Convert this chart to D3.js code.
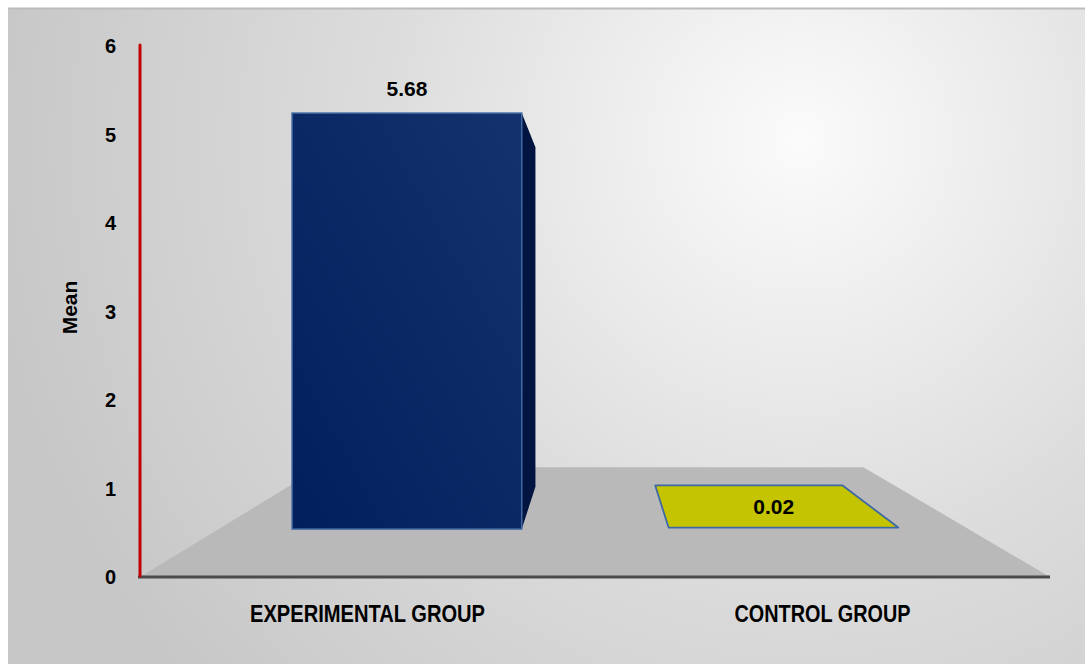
<!DOCTYPE html>
<html>
<head>
<meta charset="utf-8">
<script src="https://cdn.jsdelivr.net/npm/d3@7"></script>
<style>
  html, body { margin: 0; padding: 0; background: #fff; }
  svg { display: block; }
</style>
</head>
<body>
<div id="chart"></div>
<script>
// data
const groups = ['EXPERIMENTAL GROUP', 'CONTROL GROUP']
const means = [5.68, 0.02]
const valueLabels = ['5.68', '0.02']
const yTicks = [0, 1, 2, 3, 4, 5, 6]
const barColors = ['#022060', '#c5c400']

const width = 1085
const height = 664
const font = 'Liberation Sans, Arial, sans-serif'

// front plane of the floor (depth factor 1)
const x = d3.scaleBand().domain(groups).range([140, 1050])
    .paddingInner(0.39).paddingOuter(0.195)
const y = d3.scaleLinear().domain([0, 6]).range([577, 46])

// simple perspective towards a vanishing point
const vp = { x: 596, y: 299 }
const depth = { floorFront: 1, barFront: 0.8275, barBack: 0.675, floorBack: 0.605 }
function project (px, py, k) {
  return [vp.x + (px - vp.x) * k, vp.y + (py - vp.y) * k]
}
const line = pts => 'M' + pts.map(p => p.join(',')).join('L') + 'Z'

let svg = d3.select('#chart').append('svg')
    .attr('width', width)
    .attr('height', height)

let defs = svg.append('defs')
let bg = defs.append('radialGradient').attr('id', 'bg')
    .attr('gradientUnits', 'userSpaceOnUse')
    .attr('cx', 800).attr('cy', 140).attr('r', 820)
bg.append('stop').attr('offset', '0%').attr('stop-color', '#fbfbfb')
bg.append('stop').attr('offset', '50%').attr('stop-color', '#dddddd')
bg.append('stop').attr('offset', '100%').attr('stop-color', '#c7c7c7')

let barGrad = defs.append('linearGradient').attr('id', 'barFront')
    .attr('x1', '0%').attr('y1', '100%').attr('x2', '100%').attr('y2', '0%')
barGrad.append('stop').attr('offset', '0%').attr('stop-color', '#011f5c')
barGrad.append('stop').attr('offset', '100%').attr('stop-color', '#14326e')

// chart area
svg.append('rect')
    .attr('x', 8).attr('y', 8)
    .attr('width', width - 8).attr('height', height - 8)
    .attr('fill', 'url(#bg)')
svg.append('line')
    .attr('x1', 8).attr('x2', width).attr('y1', 8.5).attr('y2', 8.5)
    .attr('stroke', '#bcbcbc').attr('stroke-width', 2)

// floor
let x0 = x.range()[0]
let x1 = x.range()[1]
svg.append('path')
    .attr('d', line([
      project(x0, y(0), depth.floorFront),
      project(x1, y(0), depth.floorFront),
      project(x1 - 12, y(0), depth.floorBack),
      project(x0, y(0), depth.floorBack)
    ]))
    .attr('fill', '#b9b9b9')

// bars
groups.forEach((g, i) => {
  let left = x(g)
  let right = x(g) + x.bandwidth()
  let top = y(means[i])
  let base = y(0)
  let kf = depth.barFront
  let kb = depth.barBack
  let cx = left + x.bandwidth() / 2
  let gEl = svg.append('g')

  if (top < vp.y - 40) {
    // tall bar: side face + front face
    let sideX = cx < vp.x ? right : left
    gEl.append('path')
        .attr('d', line([
          project(sideX, top, kf),
          project(sideX, top, kb),
          project(sideX, base, kb),
          project(sideX, base, kf)
        ]))
        .attr('fill', '#011540')
    let p0 = project(left, top, kf)
    let p1 = project(right, base, kf)
    gEl.append('rect')
        .attr('x', p0[0]).attr('y', p0[1])
        .attr('width', p1[0] - p0[0]).attr('height', p1[1] - p0[1])
        .attr('fill', 'url(#barFront)')
        .attr('stroke', '#3f69a3').attr('stroke-width', 1.5)
    gEl.append('text')
        .attr('x', p0[0] + (p1[0] - p0[0]) / 2)
        .attr('y', p0[1] - 17)
        .attr('text-anchor', 'middle')
        .attr('font-family', font)
        .attr('font-weight', 'bold')
        .attr('font-size', 21)
        .text(valueLabels[i])
  } else {
    // flat bar: top face visible
    gEl.append('path')
        .attr('d', line([
          project(left, top, kf),
          project(right, top, kf),
          project(right, top, kb),
          project(left, top, kb)
        ]))
        .attr('fill', barColors[i])
        .attr('stroke', '#3f69a3').attr('stroke-width', 1.8)
        .attr('stroke-linejoin', 'round')
    let c = project(cx + 10, top, (kf + kb) / 2)
    gEl.append('text')
        .attr('x', c[0]).attr('y', c[1])
        .attr('dy', '0.36em')
        .attr('text-anchor', 'middle')
        .attr('font-family', font)
        .attr('font-weight', 'bold')
        .attr('font-size', 21)
        .text(valueLabels[i])
  }
})

// floor front edge
svg.append('line')
    .attr('x1', x0 - 2).attr('x2', x1)
    .attr('y1', y(0)).attr('y2', y(0))
    .attr('stroke', '#4b4b4b').attr('stroke-width', 3)

// y axis
svg.append('line')
    .attr('x1', x0).attr('x2', x0)
    .attr('y1', y(6) - 1).attr('y2', y(0) - 1)
    .attr('stroke', '#c00000').attr('stroke-width', 3)
    .attr('stroke-linecap', 'round')

svg.append('g').selectAll('text')
    .data(yTicks)
    .join('text')
    .attr('x', 116)
    .attr('y', d => y(d))
    .attr('dy', '0.36em')
    .attr('text-anchor', 'end')
    .attr('font-family', font)
    .attr('font-weight', 'bold')
    .attr('font-size', 20)
    .text(d => d)

svg.append('text')
    .attr('transform', 'translate(77,' + (y(3) - 4) + ') rotate(-90)')
    .attr('text-anchor', 'middle')
    .attr('font-family', font)
    .attr('font-weight', 'bold')
    .attr('font-size', 21)
    .text('Mean')

// category labels
svg.append('g').selectAll('text')
    .data(groups)
    .join('text')
    .attr('x', d => x(d) + x.bandwidth() / 2)
    .attr('y', 622)
    .attr('text-anchor', 'middle')
    .attr('font-family', 'Liberation Sans Narrow, Arial Narrow, Liberation Sans, sans-serif')
    .attr('font-weight', 'bold')
    .attr('font-size', 23)
    .attr('textLength', (d, i) => i === 0 ? 235 : 176)
    .attr('lengthAdjust', 'spacingAndGlyphs')
    .text(d => d)
</script>
</body>
</html>
